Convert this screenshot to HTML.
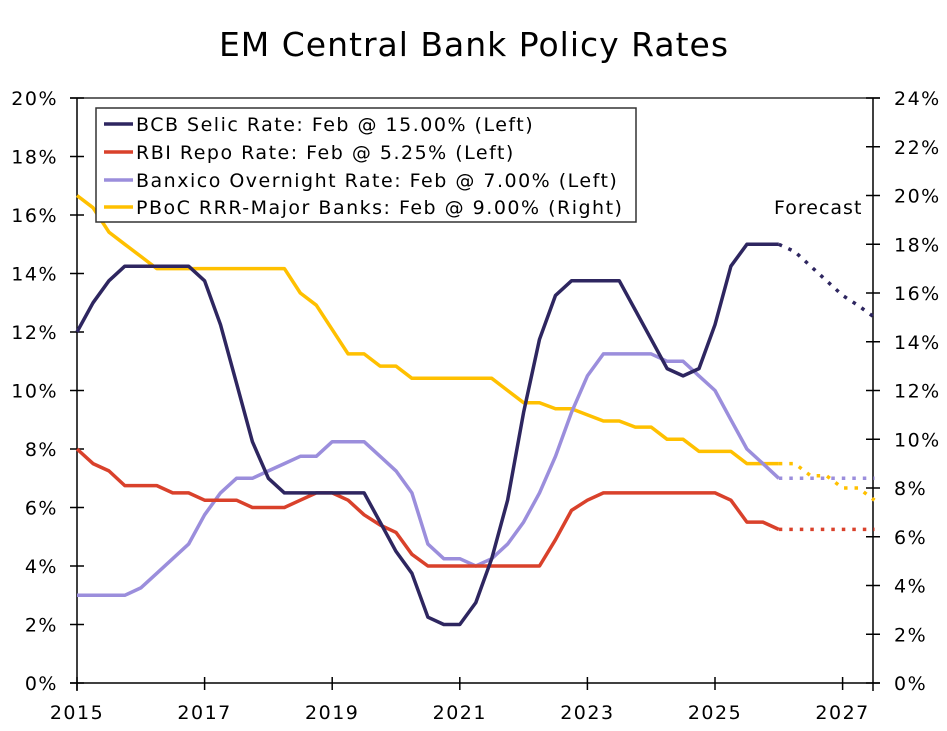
<!DOCTYPE html>
<html><head><meta charset="utf-8"><style>
body{margin:0;background:#fff}
svg text{font-family:"DejaVu Sans","Liberation Sans",sans-serif;fill:#000}
</style></head><body>
<svg id="chart" width="947" height="726" xmlns="http://www.w3.org/2000/svg">
<text x="474" y="56" text-anchor="middle" font-size="33" letter-spacing="1">EM Central Bank Policy Rates</text>
<g id="axes"></g>
<g id="series"></g>
<g>
<rect x="96" y="108" width="540" height="114" fill="#fff" stroke="#333" stroke-width="1.5"/>
<g font-size="19" letter-spacing="1.5">
<g><line x1="104" y1="124" x2="133" y2="124" stroke="#2e2660" stroke-width="3.5"/><text x="136" y="131">BCB Selic Rate: Feb @ 15.00% (Left)</text></g>
<g><line x1="104" y1="152" x2="133" y2="152" stroke="#d9412b" stroke-width="3.5"/><text x="136" y="159">RBI Repo Rate: Feb @ 5.25% (Left)</text></g>
<g><line x1="104" y1="180" x2="133" y2="180" stroke="#9b8edc" stroke-width="3.5"/><text x="136" y="187">Banxico Overnight Rate: Feb @ 7.00% (Left)</text></g>
<g><line x1="104" y1="207" x2="133" y2="207" stroke="#ffc000" stroke-width="3.5"/><text x="136" y="214">PBoC RRR-Major Banks: Feb @ 9.00% (Right)</text></g>
</g></g>
<text x="774" y="214" font-size="19" letter-spacing="1">Forecast</text>
</svg>
<script>
const years=[2015,2015.25,2015.5,2015.75,2016,2016.25,2016.5,2016.75,2017,2017.25,2017.5,2017.75,2018,2018.25,2018.5,2018.75,2019,2019.25,2019.5,2019.75,2020,2020.25,2020.5,2020.75,2021,2021.25,2021.5,2021.75,2022,2022.25,2022.5,2022.75,2023,2023.25,2023.5,2023.75,2024,2024.25,2024.5,2024.75,2025,2025.25,2025.5,2025.75,2026];
const bcb=[12,13,13.75,14.25,14.25,14.25,14.25,14.25,13.75,12.25,10.25,8.25,7,6.5,6.5,6.5,6.5,6.5,6.5,5.5,4.5,3.75,2.25,2,2,2.75,4.25,6.25,9.25,11.75,13.25,13.75,13.75,13.75,13.75,12.75,11.75,10.75,10.5,10.75,12.25,14.25,15,15,15];
const rbi=[8,7.5,7.25,6.75,6.75,6.75,6.5,6.5,6.25,6.25,6.25,6,6,6,6.25,6.5,6.5,6.25,5.75,5.4,5.15,4.4,4,4,4,4,4,4,4,4,4.9,5.9,6.25,6.5,6.5,6.5,6.5,6.5,6.5,6.5,6.5,6.25,5.5,5.5,5.25];
const banxico=[3,3,3,3,3.25,3.75,4.25,4.75,5.75,6.5,7,7,7.25,7.5,7.75,7.75,8.25,8.25,8.25,7.75,7.25,6.5,4.75,4.25,4.25,4,4.25,4.75,5.5,6.5,7.75,9.25,10.5,11.25,11.25,11.25,11.25,11,11,10.5,10,9,8,7.5,7];
const pboc=[20,19.5,18.5,18,17.5,17,17,17,17,17,17,17,17,17,16,15.5,14.5,13.5,13.5,13,13,12.5,12.5,12.5,12.5,12.5,12.5,12,11.5,11.5,11.25,11.25,11,10.75,10.75,10.5,10.5,10,10,9.5,9.5,9.5,9,9,9];
const fcYears=[2026,2026.25,2026.5,2026.75,2027,2027.25,2027.5];
const bcbFc=[15,14.75,14.25,13.75,13.25,12.9,12.5];
const rbiFc=[5.25,5.25,5.25,5.25,5.25,5.25,5.25];
const banxicoFc=[7,7,7,7,7,7,7];
const pbocFc=[9,9,8.5,8.5,8,8,7.5];
const leftTicks=[0,2,4,6,8,10,12,14,16,18,20];
const rightTicks=[0,2,4,6,8,10,12,14,16,18,20,22,24];
const xTicks=[2015,2017,2019,2021,2023,2025,2027];

const NS="http://www.w3.org/2000/svg";
const X0=77,X1=873,Y0=683,Y1=98;
const xs=y=>X0+(y-2015)*63.8;
const yl=v=>Y0-(v/20)*(Y0-Y1);
const yr=v=>Y0-(v/24)*(Y0-Y1);
function mk(t,a,p){const e=document.createElementNS(NS,t);for(const k in a)e.setAttribute(k,a[k]);p.appendChild(e);return e;}
const ax=document.getElementById('axes');
let e;
e=mk('line',{x1:X0-7,y1:Y1,x2:X1+7,y2:Y1,stroke:'#333','stroke-width':1.5},ax);


e=mk('line',{x1:X0,y1:Y1,x2:X0,y2:Y0+8,stroke:'#000','stroke-width':1.5},ax);


e=mk('line',{x1:X1,y1:Y1,x2:X1,y2:Y0+8,stroke:'#000','stroke-width':1.5},ax);


e=mk('line',{x1:X0-7,y1:Y0,x2:X1+7,y2:Y0,stroke:'#000','stroke-width':1.5},ax);


leftTicks.forEach(v=>{
 mk('line',{x1:X0-7,x2:X0+7,y1:yl(v),y2:yl(v),stroke:'#000','stroke-width':1.5},ax);
 const t=mk('text',{x:58,y:yl(v)+7,'text-anchor':'end','font-size':19,'letter-spacing':1.5},ax);t.textContent=v+'%';
 
 
});
rightTicks.forEach(v=>{
 mk('line',{x1:X1-7,x2:X1+7,y1:yr(v),y2:yr(v),stroke:'#000','stroke-width':1.5},ax);
 const t=mk('text',{x:894,y:yr(v)+7,'font-size':19,'letter-spacing':1.5},ax);t.textContent=v+'%';
 
 
});
xTicks.forEach(v=>{
 mk('line',{x1:xs(v),x2:xs(v),y1:Y0-6,y2:Y0+7,stroke:'#000','stroke-width':1.5},ax);
 const t=mk('text',{x:xs(v),y:Y0+36,'text-anchor':'middle','font-size':19,'letter-spacing':1.5},ax);t.textContent=v;
 
 
});
const sg=document.getElementById('series');
function line(xv,vals,f,color,dash,name){
 const d=vals.map((v,i)=>(i?'L':'M')+xs(xv[i]).toFixed(1)+','+f(v).toFixed(1)).join('');
 const p=mk('path',{d:d,fill:'none',stroke:color,'stroke-width':3.5,'stroke-linejoin':'round'},sg);
 if(dash){p.setAttribute('stroke-dasharray','3.5 7');}
 
 
}
line(years,pboc,yr,'#ffc000',false,'pboc-line');
line(years,banxico,yl,'#9b8edc',false,'banxico-line');
line(years,rbi,yl,'#d9412b',false,'rbi-line');
line(years,bcb,yl,'#2e2660',false,'bcb-line');
line(fcYears,pbocFc,yr,'#ffc000',true,'pboc-forecast');
line(fcYears,banxicoFc,yl,'#9b8edc',true,'banxico-forecast');
line(fcYears,rbiFc,yl,'#d9412b',true,'rbi-forecast');
line(fcYears,bcbFc,yl,'#2e2660',true,'bcb-forecast');
</script>
</body></html>
